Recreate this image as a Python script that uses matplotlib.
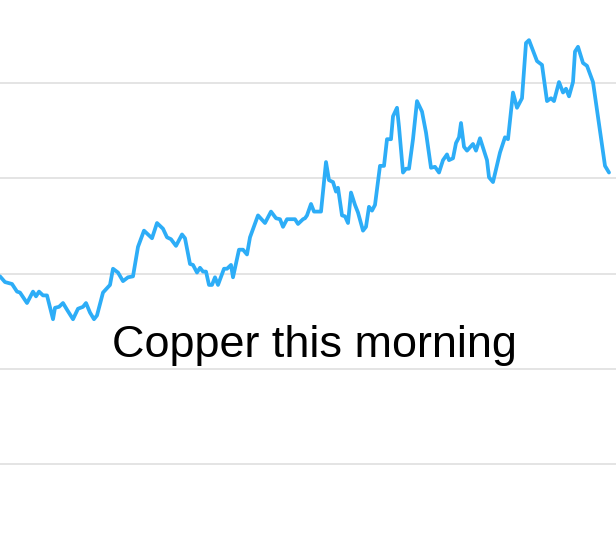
import matplotlib
matplotlib.use("Agg")
import matplotlib.pyplot as plt

# minutes since the open, and copper price (in grid units)
minutes = [
    0, 5, 12, 17, 20, 27, 33, 36, 39, 43,
    47, 53, 55, 59, 63, 67, 73, 78, 83, 86,
    90, 94, 97, 103, 110, 113, 118, 123, 128, 133,
    138, 144, 152, 157, 163, 167, 171, 176, 182, 185,
    190, 193, 197, 200, 203, 206, 209, 212, 215, 218,
    224, 227, 231, 233, 239, 243, 247, 250, 258, 265,
    271, 276, 280, 283, 287, 295, 298, 303, 305, 307,
    311, 314, 321, 326, 329, 333, 336, 338, 342, 345,
    348, 351, 355, 358, 363, 366, 369, 372, 375, 380,
    384, 387, 391, 393, 397, 399, 403, 406, 409, 413,
    417, 422, 426, 431, 435, 439, 443, 447, 449, 453,
    456, 459, 461, 464, 467, 473, 476, 480, 487, 489,
    493, 500, 505, 508, 513, 517, 522, 526, 529, 537,
    542, 547, 551, 554, 559, 563, 566, 569, 573, 575,
    578, 583, 587, 593, 605, 609,
]
price = [
    1.97, 1.91, 1.89, 1.81, 1.80, 1.69, 1.81, 1.76, 1.81, 1.77,
    1.77, 1.52, 1.64, 1.65, 1.69, 1.62, 1.52, 1.63, 1.65, 1.69,
    1.59, 1.52, 1.56, 1.80, 1.88, 2.05, 2.01, 1.92, 1.96, 1.97,
    2.28, 2.45, 2.37, 2.53, 2.47, 2.38, 2.36, 2.29, 2.41, 2.37,
    2.10, 2.09, 2.01, 2.06, 2.02, 2.02, 1.88, 1.88, 1.96, 1.88,
    2.05, 2.05, 2.09, 1.96, 2.25, 2.25, 2.20, 2.38, 2.61, 2.53,
    2.65, 2.58, 2.57, 2.49, 2.57, 2.57, 2.52, 2.57, 2.58, 2.61,
    2.73, 2.65, 2.65, 3.17, 2.98, 2.96, 2.86, 2.90, 2.61, 2.60,
    2.53, 2.85, 2.72, 2.64, 2.45, 2.49, 2.70, 2.66, 2.72, 3.13,
    3.13, 3.41, 3.41, 3.65, 3.74, 3.54, 3.06, 3.10, 3.10, 3.41,
    3.81, 3.70, 3.48, 3.11, 3.12, 3.06, 3.19, 3.25, 3.19, 3.21,
    3.37, 3.43, 3.58, 3.33, 3.29, 3.36, 3.29, 3.42, 3.19, 3.01,
    2.96, 3.27, 3.43, 3.41, 3.90, 3.74, 3.84, 4.42, 4.45, 4.23,
    4.19, 3.81, 3.84, 3.81, 4.01, 3.90, 3.94, 3.86, 4.01, 4.33,
    4.38, 4.21, 4.18, 4.01, 3.13, 3.06,
]
grid_levels = [0, 1, 2, 3, 4]
title = "Copper this morning"

fig = plt.figure(figsize=(6.16, 5.48), dpi=100)
ax = fig.add_axes([0, 0, 1, 1])

for level in grid_levels:
    ax.axhline(level, color="#e2e2e2", linewidth=1.3, zorder=1)

ax.plot(minutes, price, color="#2dadf7", linewidth=2.7,
        solid_joinstyle="round", solid_capstyle="round", zorder=3)

ax.set_xlim(0, 616)
ax.set_ylim(-84 / 95.25, 464 / 95.25)
ax.axis("off")

fig.text(314 / 616, 1 - 357 / 548, title, ha="center", va="baseline",
         fontsize=32.4, family=["Liberation Sans", "DejaVu Sans"], color="black")

fig.savefig("out.png", dpi=100, facecolor="white")
